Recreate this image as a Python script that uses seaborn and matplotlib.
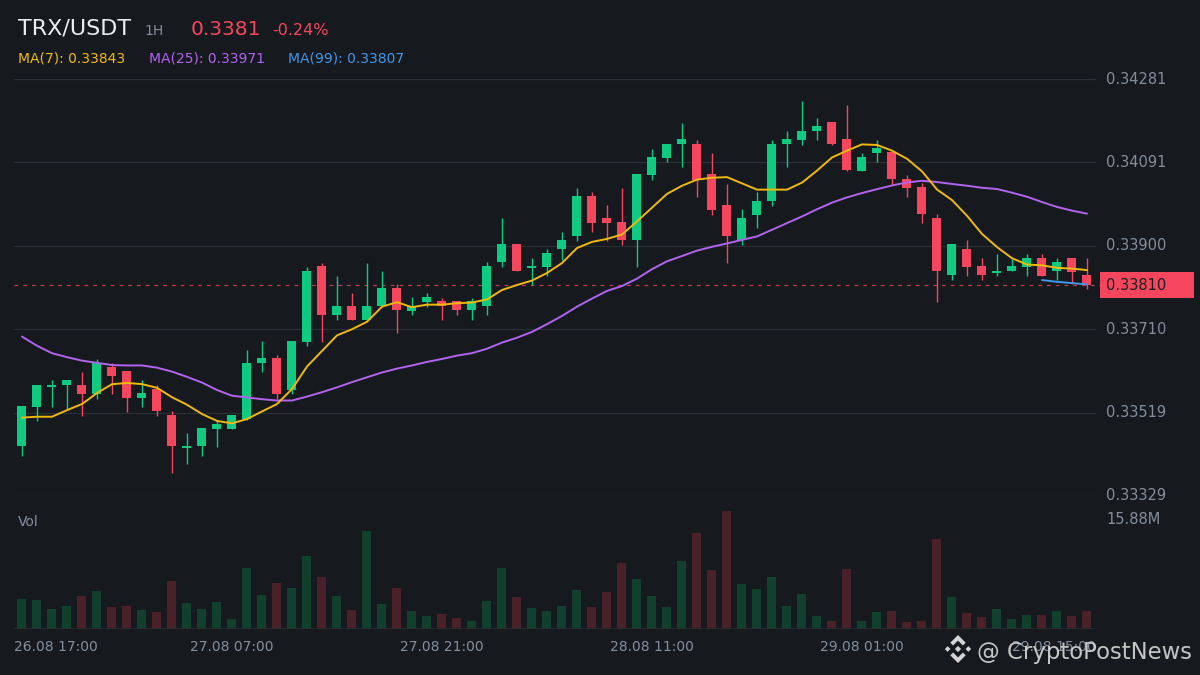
import numpy as np
import pandas as pd
import matplotlib
matplotlib.use('Agg')
import matplotlib.pyplot as plt
from matplotlib.patches import Polygon, Rectangle
import seaborn as sns

# ======================== 数据: TRX/USDT 1H ========================
open_ = [0.33443, 0.33532, 0.33578, 0.33582, 0.33582, 0.33562, 0.33624, 0.33614, 0.33553, 0.33573,
         0.33514, 0.33439, 0.33443, 0.33482, 0.33482, 0.33505, 0.33633, 0.33644, 0.33571, 0.33681,
         0.33854, 0.33742, 0.33763, 0.33731, 0.33763, 0.33804, 0.33751, 0.33772, 0.33774, 0.33774,
         0.33754, 0.33763, 0.33863, 0.33904, 0.33850, 0.33852, 0.33893, 0.33923, 0.34014, 0.33964,
         0.33955, 0.33913, 0.34062, 0.34101, 0.34133, 0.34133, 0.34064, 0.33993, 0.33913, 0.33971,
         0.34003, 0.34133, 0.34142, 0.34162, 0.34183, 0.34144, 0.34071, 0.34112, 0.34114, 0.34053,
         0.34034, 0.33964, 0.33834, 0.33893, 0.33854, 0.33838, 0.33843, 0.33852, 0.33872, 0.33843,
         0.33872, 0.33834]
high = [0.33534, 0.33582, 0.33594, 0.33594, 0.33612, 0.33642, 0.33633, 0.33614, 0.33594, 0.33582,
        0.33523, 0.33473, 0.33484, 0.33503, 0.33514, 0.33662, 0.33683, 0.33651, 0.33683, 0.33852,
        0.33861, 0.33831, 0.33792, 0.33861, 0.33843, 0.33813, 0.33783, 0.33792, 0.33781, 0.33774,
        0.33781, 0.33863, 0.33964, 0.33904, 0.33872, 0.33893, 0.33932, 0.34032, 0.34023, 0.33993,
        0.34032, 0.34064, 0.34121, 0.34133, 0.34181, 0.34142, 0.34112, 0.34041, 0.33984, 0.34023,
        0.34142, 0.34162, 0.34231, 0.34192, 0.34183, 0.34222, 0.34112, 0.34142, 0.34114, 0.34062,
        0.34044, 0.33973, 0.33904, 0.33913, 0.33872, 0.33882, 0.33870, 0.33882, 0.33882, 0.33872,
        0.33872, 0.33872]
low = [0.33420, 0.33500, 0.33532, 0.33525, 0.33512, 0.33550, 0.33562, 0.33521, 0.33532, 0.33512,
       0.33382, 0.33402, 0.33420, 0.33441, 0.33482, 0.33503, 0.33612, 0.33550, 0.33562, 0.33672,
       0.33681, 0.33731, 0.33731, 0.33731, 0.33763, 0.33701, 0.33742, 0.33760, 0.33731, 0.33742,
       0.33731, 0.33742, 0.33852, 0.33843, 0.33811, 0.33831, 0.33868, 0.33911, 0.33932, 0.33911,
       0.33902, 0.33852, 0.34050, 0.34092, 0.34080, 0.34012, 0.33971, 0.33861, 0.33902, 0.33941,
       0.33991, 0.34080, 0.34130, 0.34142, 0.34130, 0.34071, 0.34071, 0.34092, 0.34039, 0.34012,
       0.33952, 0.33772, 0.33822, 0.33831, 0.33822, 0.33831, 0.33843, 0.33831, 0.33831, 0.33822,
       0.33813, 0.33802]
close = [0.33534, 0.33582, 0.33582, 0.33594, 0.33562, 0.33633, 0.33603, 0.33553, 0.33564, 0.33523,
         0.33443, 0.33443, 0.33484, 0.33493, 0.33514, 0.33633, 0.33644, 0.33562, 0.33683, 0.33843,
         0.33742, 0.33763, 0.33731, 0.33763, 0.33804, 0.33754, 0.33763, 0.33783, 0.33763, 0.33754,
         0.33774, 0.33854, 0.33904, 0.33843, 0.33854, 0.33884, 0.33913, 0.34014, 0.33952, 0.33952,
         0.33913, 0.34064, 0.34103, 0.34133, 0.34144, 0.34050, 0.33982, 0.33923, 0.33964, 0.34003,
         0.34133, 0.34144, 0.34162, 0.34174, 0.34133, 0.34073, 0.34103, 0.34124, 0.34053, 0.34032,
         0.33973, 0.33843, 0.33904, 0.33852, 0.33834, 0.33843, 0.33854, 0.33872, 0.33831, 0.33863,
         0.33840, 0.33810]
# 成交量 (百万)
volume = [4.04, 3.90, 2.69, 3.10, 4.44, 5.11, 2.96, 3.10, 2.56, 2.29,
          6.46, 3.50, 2.69, 3.63, 1.35, 8.21, 4.58, 6.19, 5.52, 9.82,
          7.00, 4.44, 2.56, 13.19, 3.36, 5.52, 2.42, 1.75, 2.02, 1.48,
          1.08, 3.77, 8.21, 4.31, 2.83, 2.42, 3.10, 5.25, 2.96, 4.98,
          8.88, 6.73, 4.44, 2.96, 9.15, 12.92, 7.94, 15.88, 6.06, 5.38,
          7.00, 3.10, 4.71, 1.75, 1.08, 8.07, 1.08, 2.29, 2.42, 0.94,
          1.08, 12.11, 4.31, 2.15, 1.61, 2.69, 1.35, 1.88, 1.88, 2.42,
          1.75, 2.42]
# 窗口之前的历史决定的均线起始值
ma7_head = [0.33508, 0.33510, 0.33510, 0.33525, 0.33539, 0.33564]
ma25_head = [0.33693, 0.33672, 0.33655, 0.33646, 0.33638, 0.33633, 0.33628, 0.33627, 0.33627, 0.33622,
             0.33613, 0.33601, 0.33588, 0.33571, 0.33558, 0.33554, 0.33550, 0.33547, 0.33547, 0.33556,
             0.33566, 0.33577, 0.33589, 0.33600]
ma99_tail = [0.33822, 0.33818, 0.33815, 0.33812]
ma_names = ['MA(7)', 'MA(25)', 'MA(99)']
ma_last = [0.33843, 0.33971, 0.33807]
x_labels = ['26.08 17:00', '27.08 07:00', '27.08 21:00', '28.08 11:00', '29.08 01:00', '29.08 15:00']
x_label_idx = [0, 14, 28, 42, 56, 70]
y_ticks = [0.34281, 0.34091, 0.33900, 0.33710, 0.33519, 0.33329]
last_price = 0.33810
vol_max_label = '15.88M'

# ======================== 样式 ========================
BG = '#161a1e'
UP = '#0ecb81'
DOWN = '#f6465d'
VOL_UP = '#12402f'
VOL_DOWN = '#4a2129'
GRID = '#2a2e35'
GRAY = '#848e9c'
C_MA7 = '#f0b90b'
C_MA25 = '#b264ef'
C_MA99 = '#4096ec'

sns.set_theme(style='dark', rc={'axes.facecolor': BG, 'figure.facecolor': BG})
plt.rcParams['font.family'] = ['DejaVu Sans']

n = len(close)
idx = np.arange(n)
o = np.array(open_)
c = np.array(close)
up = c >= o

close_s = pd.Series(c)
ma7 = close_s.rolling(7).mean().to_numpy()
ma7[:len(ma7_head)] = ma7_head
ma25 = close_s.rolling(25).mean().to_numpy()
ma25[:len(ma25_head)] = ma25_head
ma99 = np.full(n, np.nan)
ma99[n - len(ma99_tail):] = ma99_tail

fig = plt.figure(figsize=(12, 6.75), dpi=100)
W, H = 1200, 675
ax = fig.add_axes([14 / W, 1 - 496 / H, 1086 / W, 417 / H])
axv = fig.add_axes([14 / W, 1 - 629 / H, 1086 / W, 118 / H])
xlim = (-0.533, n - 0.133)

# ---------------- K线 ----------------
for v in y_ticks:
    ax.axhline(v, xmin=0, xmax=0.995, color=GRID, linewidth=0.9, zorder=0)

cols = np.where(up, UP, DOWN)
ax.vlines(idx, low, high, colors=cols, linewidth=1.0, zorder=2)
body_h = np.maximum(np.abs(c - o), 0.00004)
ax.bar(idx, body_h, bottom=np.minimum(o, c), width=0.6, color=cols, linewidth=0, zorder=2)

sns.lineplot(x=idx, y=ma25, color=C_MA25, linewidth=1.4, ax=ax, zorder=3)
sns.lineplot(x=idx, y=ma7, color=C_MA7, linewidth=1.4, ax=ax, zorder=4)
sns.lineplot(x=idx, y=ma99, color=C_MA99, linewidth=1.4, ax=ax, zorder=4)

ax.axhline(last_price, xmin=0, xmax=1, color=DOWN, linewidth=0.9, alpha=0.75,
           dashes=(3, 4), zorder=1)

ax.set_xlim(*xlim)
ax.set_ylim(y_ticks[-1], y_ticks[0])
ax.set_xticks([])
ax.set_yticks([])
ax.set_xlabel('')
ax.set_ylabel('')
for s in ax.spines.values():
    s.set_visible(False)

ytr = ax.get_yaxis_transform()
for v in y_ticks:
    ax.text(1.0055, v, f'{v:.5f}', transform=ytr, ha='left', va='center',
            fontsize=10.5, color=GRAY)

# 最新价标签
tag_h = 26 * (y_ticks[0] - y_ticks[-1]) / 417
ax.add_patch(Rectangle((1.0, last_price - tag_h / 2), 94 / 1086, tag_h, transform=ytr,
                       facecolor=DOWN, edgecolor='none', clip_on=False, zorder=5))
ax.text(1.0055, last_price, f'{last_price:.5f}', transform=ytr, ha='left', va='center',
        fontsize=10.5, color='#1a1d22', zorder=6)

# ---------------- 成交量 ----------------
vol_df = pd.DataFrame({'idx': idx, 'vol': volume, 'dir': np.where(up, 'up', 'down')})
sns.barplot(data=vol_df, x='idx', y='vol', hue='dir', palette={'up': VOL_UP, 'down': VOL_DOWN},
            dodge=False, width=0.6, saturation=1, linewidth=0, legend=False, ax=axv)
axv.axhline(0, xmin=0, xmax=0.995, color=GRID, linewidth=1.2, zorder=3)
axv.set_xlim(*xlim)
axv.set_ylim(0, max(volume))
axv.set_xticks([])
axv.set_yticks([])
axv.set_xlabel('')
axv.set_ylabel('')
for s in axv.spines.values():
    s.set_visible(False)

axv.text(4 / 1086, 0.907, 'Vol', transform=axv.transAxes, ha='left', va='center',
         fontsize=10, color=GRAY)
axv.text(1.0055, 0.924, vol_max_label, transform=axv.transAxes, ha='left', va='center',
         fontsize=10.5, color=GRAY)

xtr = axv.get_xaxis_transform()
for i, (pos, lab) in enumerate(zip(x_label_idx, x_labels)):
    if i == 0:
        axv.text(xlim[0], -0.153, lab, transform=xtr, ha='left', va='center', fontsize=10, color=GRAY)
    elif i == len(x_labels) - 1:
        axv.text(xlim[1] - 0.3, -0.153, lab, transform=xtr, ha='right', va='center', fontsize=10, color=GRAY)
    else:
        axv.text(pos, -0.153, lab, transform=xtr, ha='center', va='center', fontsize=10, color=GRAY)

# ---------------- 标题 ----------------
def px(x, y):
    return x / W, 1 - y / H

fig.text(*px(18, 35), 'TRX/USDT', fontsize=16, color='#eaecef', va='baseline')
fig.text(*px(144, 35), '1H', fontsize=10, color=GRAY, va='baseline')
fig.text(*px(191, 35), f'{last_price:.4f}', fontsize=14.5, color=DOWN, va='baseline')
fig.text(*px(272, 35), '-0.24%', fontsize=11.5, color=DOWN, va='baseline')
for xp, name, val, col in zip([18, 149, 288], ma_names, ma_last, [C_MA7, C_MA25, C_MA99]):
    fig.text(*px(xp, 63), f'{name}: {val:.5f}', fontsize=10, color=col, va='baseline')

# ---------------- 水印 ----------------
WM = '#d4d4d4'
axl = fig.add_axes([944 / W, 1 - 663 / H, 28 / W, 28 / H])
axl.set_xlim(-1, 1)
axl.set_ylim(-1, 1)
axl.axis('off')
axl.patch.set_alpha(0)


def diamond(cx, cy, r):
    return Polygon([(cx, cy + r), (cx + r, cy), (cx, cy - r), (cx - r, cy)], closed=True,
                   facecolor=WM, edgecolor='none')


for cx, cy, r in [(0, 0, 0.22), (-0.74, 0, 0.2), (0.74, 0, 0.2)]:
    axl.add_patch(diamond(cx, cy, r))
for sgn in (1, -1):
    pts = [(0, sgn * 1.0), (0.55, sgn * 0.45), (0.35, sgn * 0.25), (0, sgn * 0.6),
           (-0.35, sgn * 0.25), (-0.55, sgn * 0.45)]
    axl.add_patch(Polygon(pts, closed=True, facecolor=WM, edgecolor='none'))
fig.text(*px(977, 659), '@ CryptoPostNews', fontsize=16.4, color=WM, alpha=0.92, va='baseline')

fig.savefig('out.png', dpi=100, facecolor=BG)
